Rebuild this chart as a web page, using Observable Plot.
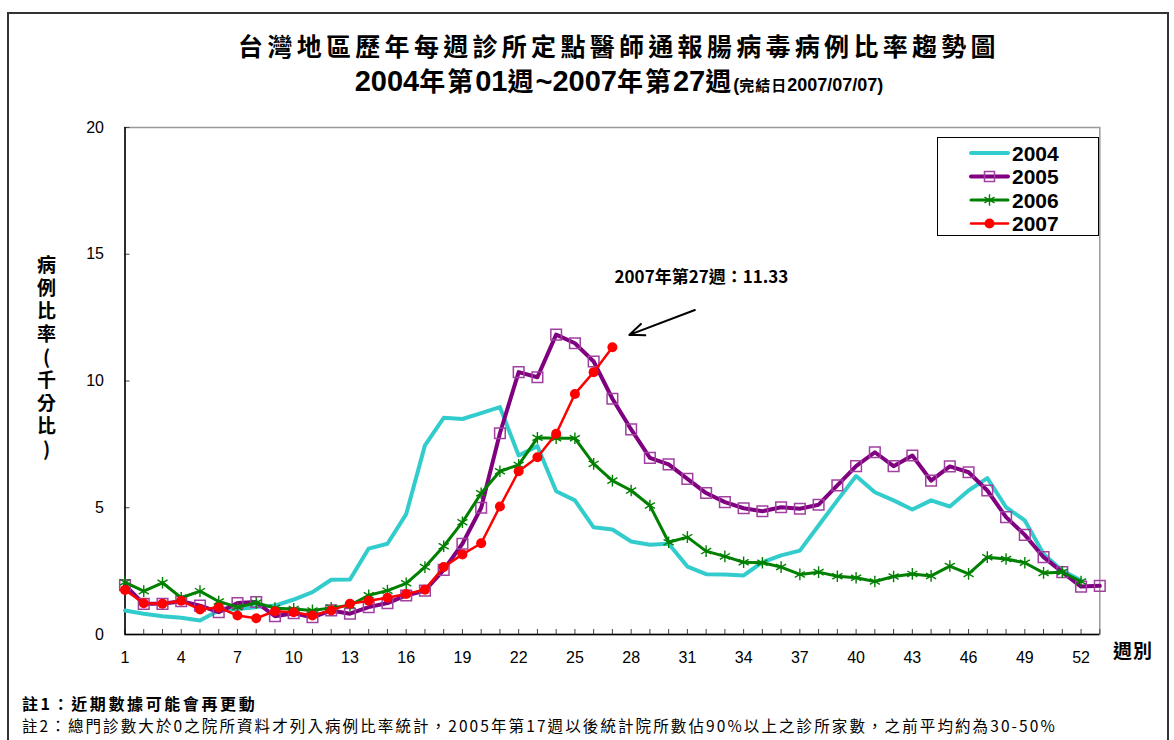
<!DOCTYPE html>
<html>
<head>
<meta charset="utf-8">
<script src="https://cdn.jsdelivr.net/npm/d3@7"></script>
<script src="https://cdn.jsdelivr.net/npm/@observablehq/plot@0.6"></script>
<style>
  html, body { margin: 0; padding: 0; background: #fff; }
  #wrap { position: relative; width: 1174px; height: 740px; overflow: hidden; font-family: "Liberation Sans", Arial, sans-serif; }
  #chart { position: absolute; left: 0; top: 0; }
  .abs { position: absolute; }
  #frame { left: 7px; top: 12px; width: 1162px; height: 760px; border: 2px solid #333; box-sizing: border-box; }
  #t1 { left: 119px; width: 1000px; top: 27px; text-align: center; font-family: "Noto Sans CJK TC", sans-serif; font-weight: 700; font-size: 25px; letter-spacing: 4.3px; line-height: 36px; color: #000; }
  #t2 { left: 119px; width: 1000px; top: 61px; text-align: center; font-weight: 700; font-size: 29px; line-height: 38px; color: #000; }
  #t2 .cjk { font-family: "Noto Sans CJK TC", sans-serif; font-size: 26px; letter-spacing: 2px; }
  #t2 .small { font-size: 18px; }
  #t2 .small .cjk { font-size: 15px; letter-spacing: 1px; }
  #ylab { left: 33px; top: 255px; writing-mode: vertical-rl; text-orientation: upright; font-family: "Noto Sans CJK TC", sans-serif; font-weight: 700; font-size: 19px; letter-spacing: 4px; color: #000; }
  #xlab { left: 1113px; top: 636px; font-family: "Noto Sans CJK TC", sans-serif; font-weight: 700; font-size: 19px; letter-spacing: 1px; color: #000; }
  #legend { left: 937px; top: 137px; width: 162px; height: 99px; border: 1px solid #000; box-sizing: border-box; background: #fff; }
  #n1 { left: 22px; top: 691px; font-family: "Noto Sans CJK TC", sans-serif; font-weight: 700; font-size: 16px; letter-spacing: 2.6px; }
  #n2 { left: 22px; top: 714px; font-family: "Noto Sans CJK TC", sans-serif; font-weight: 400; font-size: 15.5px; letter-spacing: 2.1px; }
</style>
</head>
<body>
<div id="wrap">
  <div id="chart"></div>
  <div class="abs" id="frame"></div>
  <div class="abs" id="t1">台灣地區歷年每週診所定點醫師通報腸病毒病例比率趨勢圖</div>
  <div class="abs" id="t2">2004<span class="cjk">年第</span>01<span class="cjk">週</span>~2007<span class="cjk">年第</span>27<span class="cjk">週</span><span class="small">(<span class="cjk">完結日</span>2007/07/07)</span></div>
  <div class="abs" id="ylab">病例比率(千分比)</div>
  <div class="abs" id="xlab">週別</div>
  <div class="abs" id="legend"></div>
  <div class="abs" id="n1">註1：近期數據可能會再更動</div>
  <div class="abs" id="n2">註2：總門診數大於0之院所資料才列入病例比率統計，2005年第17週以後統計院所數佔90%以上之診所家數，之前平均約為30-50%</div>
</div>
<script>
// ---- data ----
const years = ["2004", "2005", "2006", "2007"];
const colors = ["#33CCCC", "#800080", "#008000", "#FF0000"];

const rate2004 = [0.95, 0.82, 0.72, 0.66, 0.55, 0.95, 1.01, 1.08, 1.14, 1.38, 1.67, 2.16, 2.17, 3.39, 3.58, 4.75,
  7.46, 8.55, 8.50, 8.73, 8.97, 7.06, 7.43, 5.65, 5.29, 4.23, 4.14, 3.67, 3.54, 3.58, 2.68, 2.38, 2.37, 2.33,
  2.85, 3.12, 3.31, 4.30, 5.29, 6.25, 5.61, 5.29, 4.93, 5.29, 5.05, 5.68, 6.17, 5.02, 4.50, 3.18, 2.52, 2.13];
const rate2005 = [1.95, 1.21, 1.21, 1.31, 1.14, 0.88, 1.24, 1.28, 0.72, 0.84, 0.68, 0.95, 0.82, 1.08, 1.24, 1.54,
  1.73, 2.55, 3.58, 5.00, 7.94, 10.35, 10.15, 11.83, 11.49, 10.77, 9.30, 8.09, 6.97, 6.71, 6.14, 5.58, 5.22, 4.98,
  4.86, 5.02, 4.96, 5.12, 5.88, 6.64, 7.19, 6.64, 7.06, 6.07, 6.63, 6.40, 5.68, 4.63, 3.93, 3.05, 2.46, 1.89, 1.92];
const rate2006 = [2.06, 1.71, 2.04, 1.45, 1.71, 1.30, 1.08, 1.25, 1.04, 1.01, 0.95, 1.05, 1.15, 1.55, 1.73, 2.02,
  2.66, 3.48, 4.43, 5.57, 6.44, 6.69, 7.76, 7.74, 7.74, 6.73, 6.07, 5.68, 5.09, 3.64, 3.84, 3.29, 3.08, 2.85,
  2.83, 2.66, 2.37, 2.46, 2.30, 2.24, 2.09, 2.29, 2.39, 2.31, 2.70, 2.39, 3.05, 2.98, 2.83, 2.43, 2.46, 2.09];
const rate2007 = [1.76, 1.23, 1.21, 1.33, 0.99, 1.07, 0.75, 0.64, 0.92, 0.88, 0.75, 0.95, 1.21, 1.33, 1.45, 1.60,
  1.77, 2.66, 3.16, 3.60, 5.05, 6.44, 6.99, 7.92, 9.49, 10.35, 11.33];

const weeks = d3.range(1, 54);
const xTickLabels = [1, 4, 7, 10, 13, 16, 19, 22, 25, 28, 31, 34, 37, 40, 43, 46, 49, 52];
const yTicks = [0, 5, 10, 15, 20];

const annotationText = ["2007年第27週：11.33"];
const annotationPos = [{x: 31.75, y: 14.08}];
const arrowSeg = [{x1: 31.4, y1: 12.8, x2: 27.9, y2: 11.82}];

// ---- tidy tables ----
const toRows = (arr) => arr.map((v, i) => ({week: i + 1, rate: v}));
const d2004 = toRows(rate2004), d2005 = toRows(rate2005), d2006 = toRows(rate2006), d2007 = toRows(rate2007);

const chart = Plot.plot({
  width: 1174,
  height: 740,
  marginLeft: 124.5,
  marginRight: 74.7,
  marginTop: 127,
  marginBottom: 106,
  style: {fontFamily: "'Liberation Sans', Arial, sans-serif", fontSize: "16px", background: "transparent", color: "#000"},
  x: {domain: [1, 53], label: null},
  y: {domain: [0, 20], label: null},
  marks: [
    Plot.frame({stroke: "#999", strokeWidth: 1.5}),
    Plot.axisX({ticks: weeks, tickSize: -5, tickFormat: () => "", stroke: "#444", label: null}),
    Plot.axisX({ticks: xTickLabels, tickSize: 0, tickPadding: 17, fontSize: 16, label: null}),
    Plot.axisY({ticks: yTicks, tickSize: -5, tickFormat: () => "", stroke: "#444", label: null}),
    Plot.axisY({ticks: yTicks, tickSize: 0, tickPadding: 21, fontSize: 16, label: null}),
    Plot.ruleX([1], {stroke: "#000", strokeWidth: 1.5}),
    Plot.ruleY([0], {stroke: "#000", strokeWidth: 1.5}),
    // 2004
    Plot.line(d2004, {x: "week", y: "rate", stroke: colors[0], strokeWidth: 4}),
    // 2005
    Plot.line(d2005, {x: "week", y: "rate", stroke: colors[1], strokeWidth: 4}),
    Plot.dot(d2005, {x: "week", y: "rate", symbol: "square", r: 6, stroke: "#A040A0", strokeWidth: 1.5, fill: "none"}),
    // 2006
    Plot.line(d2006, {x: "week", y: "rate", stroke: colors[2], strokeWidth: 3}),
    Plot.dot(d2006, {x: "week", y: "rate", symbol: "asterisk", r: 5.5, stroke: colors[2], strokeWidth: 1.4}),
    // 2007
    Plot.line(d2007, {x: "week", y: "rate", stroke: colors[3], strokeWidth: 2.5}),
    Plot.dot(d2007, {x: "week", y: "rate", r: 5, fill: colors[3], stroke: "none"}),
    // annotation
    Plot.arrow(arrowSeg, {x1: "x1", y1: "y1", x2: "x2", y2: "y2", stroke: "#000", strokeWidth: 2, headLength: 12, headAngle: 45}),
    Plot.text(annotationPos, {x: "x", y: "y", text: () => annotationText[0], fontWeight: "bold", fontSize: 17,
      fontFamily: "'Noto Sans CJK TC', 'Liberation Sans', sans-serif", letterSpacing: "0.6px"})
  ]
});
document.getElementById("chart").appendChild(chart);

// ---- legend ----
const legend = d3.select("#legend").append("svg").attr("width", 160).attr("height", 97);
const markerKinds = ["none", "square", "asterisk", "circle"];
const lw = [4, 4, 3, 2.5];
years.forEach((yr, i) => {
  const cy = 15 + i * 23.5;
  const g = legend.append("g");
  g.append("line").attr("x1", 33).attr("x2", 70).attr("y1", cy).attr("y2", cy)
    .attr("stroke", colors[i]).attr("stroke-width", lw[i]).attr("stroke-linecap", "round");
  const cx = 51.5;
  if (markerKinds[i] === "square") {
    g.append("rect").attr("x", cx - 5).attr("y", cy - 5).attr("width", 10).attr("height", 10)
      .attr("fill", "none").attr("stroke", "#A040A0").attr("stroke-width", 1.5);
  } else if (markerKinds[i] === "asterisk") {
    g.append("path").attr("d", d3.symbol(d3.symbolAsterisk, Math.PI * 5.5 * 5.5)())
      .attr("transform", `translate(${cx},${cy})`).attr("stroke", colors[i]).attr("stroke-width", 1.4).attr("fill", "none");
  } else if (markerKinds[i] === "circle") {
    g.append("circle").attr("cx", cx).attr("cy", cy).attr("r", 5).attr("fill", colors[i]);
  }
  g.append("text").attr("x", 74).attr("y", cy).attr("dy", "0.36em").text(yr)
    .attr("font-family", "'Liberation Sans', Arial, sans-serif").attr("font-weight", "bold").attr("font-size", 21);
});
</script>
</body>
</html>
